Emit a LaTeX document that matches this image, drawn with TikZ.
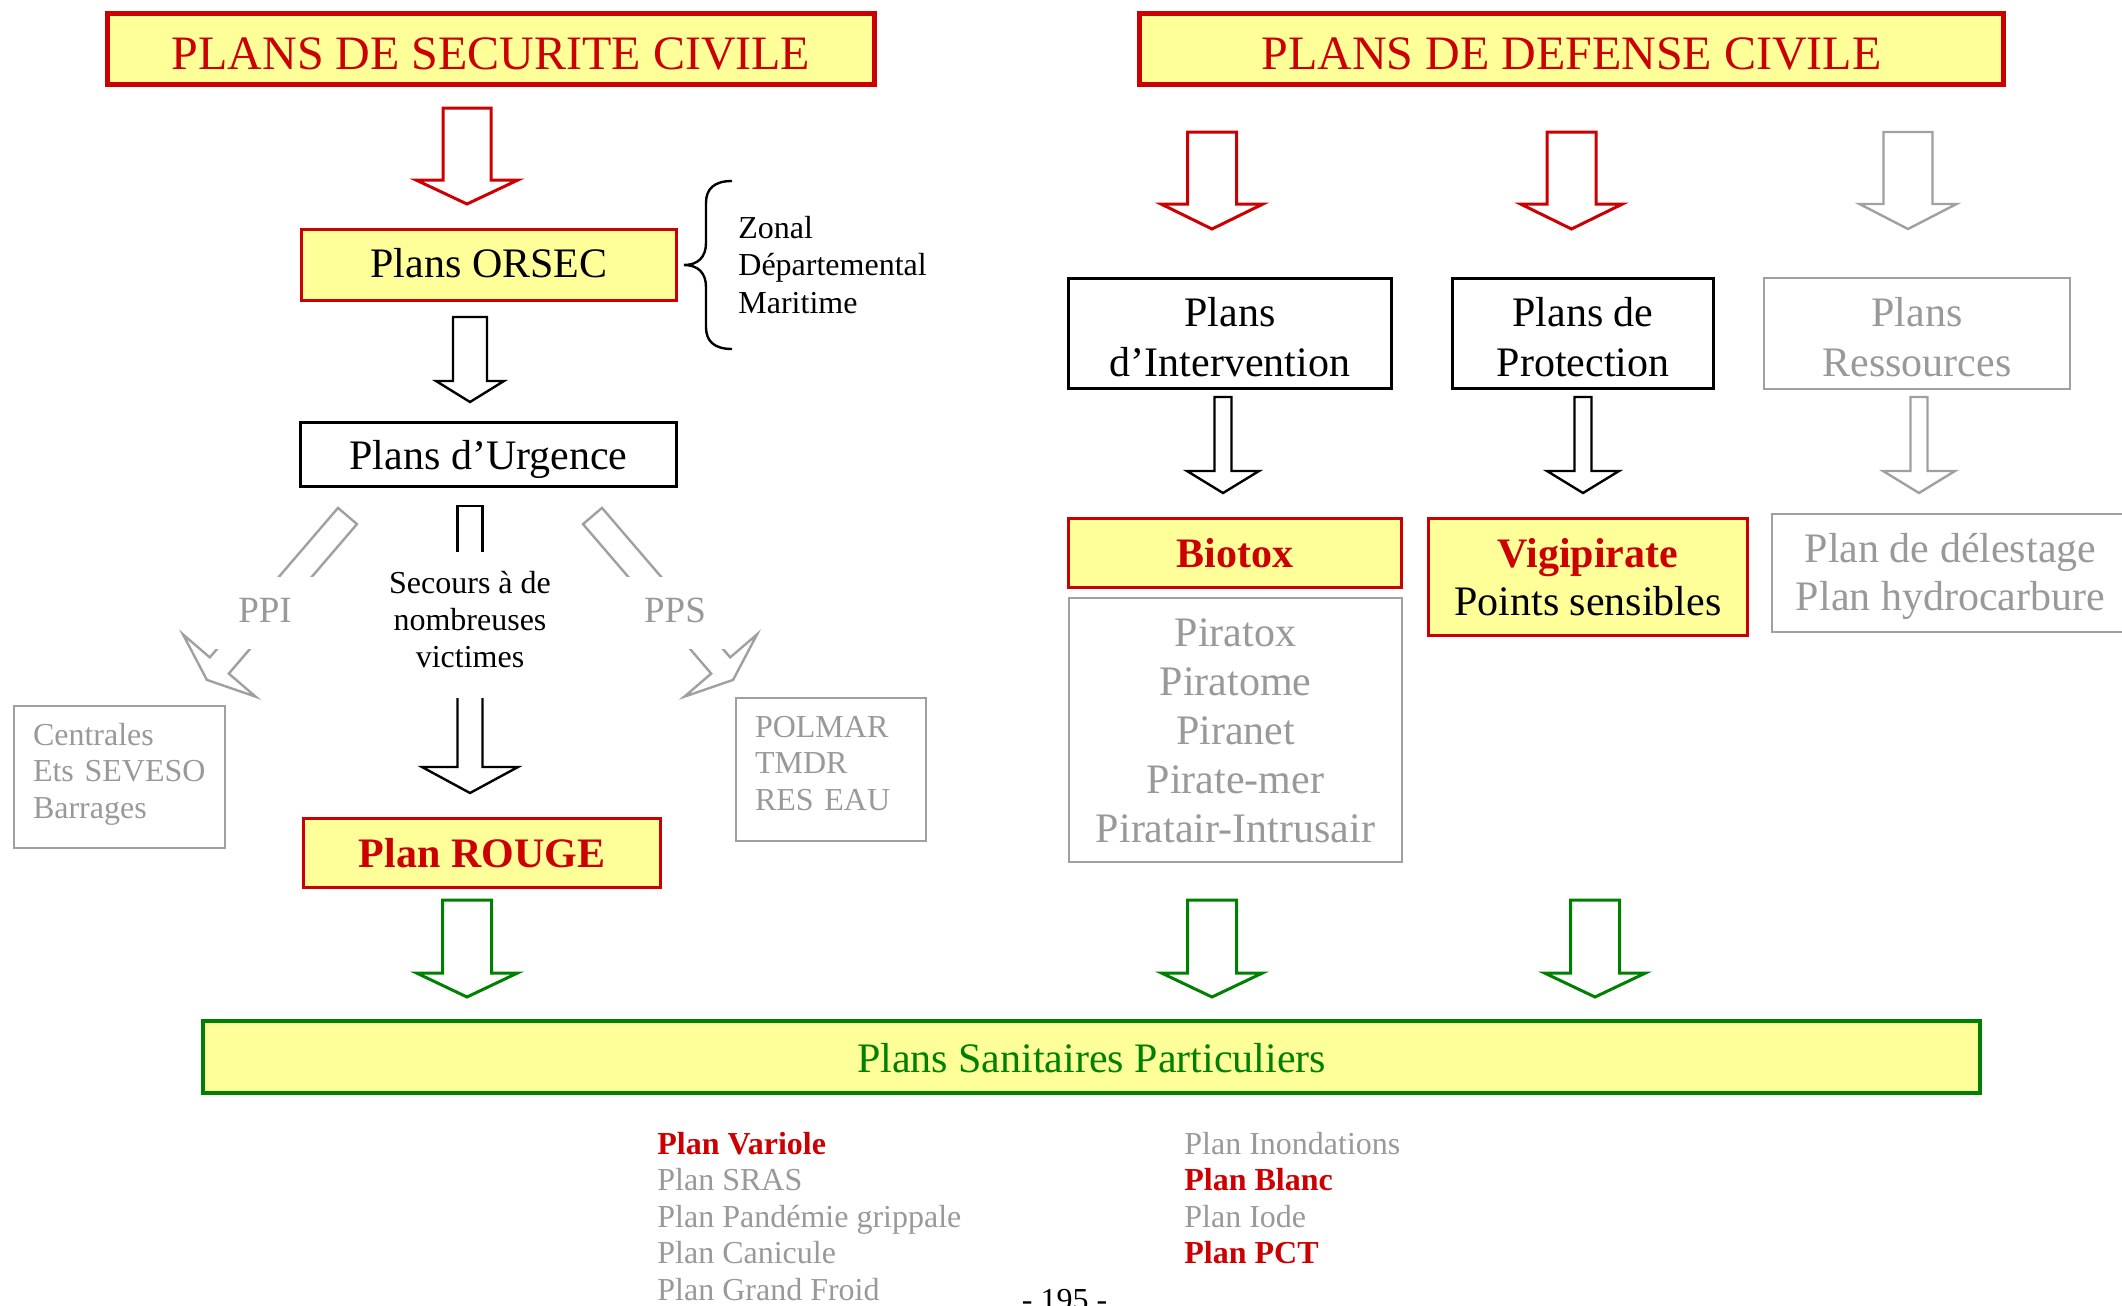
\documentclass[tikz,border=0pt]{standalone}
\usepackage{fontspec}
\setmainfont{Liberation Serif}
\usetikzlibrary{calc}
\definecolor{myred}{HTML}{CC0000}
\definecolor{myyellow}{HTML}{FFFF99}
\definecolor{mygray}{HTML}{A0A0A0}
\definecolor{mygraytext}{HTML}{999999}
\definecolor{mygreen}{HTML}{008000}
\newcommand\BArr[7][]{%
  \draw[#1] ({#2-#4},#3) -- ({#2+#4},#3) -- ({#2+#4},#5) -- ({#2+#6},#5) -- (#2,#7) -- ({#2-#6},#5) -- ({#2-#4},#5) -- cycle;}
\tikzset{
  fbig/.style={font=\fontsize{21}{25}\selectfont},
  fsmall/.style={font=\fontsize{16}{18.5}\selectfont},
  titlebox/.style={draw=myred, fill=myyellow, line width=2.4pt, text=myred, inner sep=0pt,
    font=\fontsize{24}{28}\selectfont, text height=20pt, text depth=0pt},
  redbox/.style={draw=myred, fill=myyellow, line width=1.5pt, inner sep=0pt, fbig},
  blackbox/.style={draw=black, line width=1.3pt, inner sep=0pt, fbig},
  graybox/.style={draw=mygray, line width=1.1pt, inner sep=0pt, text=mygraytext, fbig},
  greenbox/.style={draw=mygreen, fill=myyellow, line width=2.2pt, inner sep=0pt, text=mygreen, fbig},
  redarrow/.style={draw=myred, line width=1.5pt, fill=white, line join=miter},
  blackarrow/.style={draw=black, line width=1.2pt, fill=white, line join=miter},
  grayarrow/.style={draw=mygray, line width=1.2pt, fill=white, line join=miter},
  greenarrow/.style={draw=mygreen, line width=1.5pt, fill=white, line join=miter},
  grayline/.style={draw=mygray, line width=1.2pt, line join=miter},
  lbl/.style={fill=white, inner sep=0pt, minimum width=50pt, minimum height=36pt, text=mygraytext,
    font=\fontsize{18.5}{22}\selectfont, text height=9pt, text depth=0pt},
}
\begin{document}
\begin{tikzpicture}[x=0.5pt,y=-0.5pt]
\useasboundingbox (0,0) rectangle (2122,1306);

% ---------- block arrows ----------
\BArr[redarrow]{467}{108}{24}{180}{51}{204}
\BArr[redarrow]{1212}{132}{24.5}{204}{51}{229}
\BArr[redarrow]{1571.5}{132}{24.5}{204}{51}{229}
\BArr[grayarrow]{1908}{132}{24.5}{204}{48.5}{229}
\BArr[blackarrow]{470}{317}{17}{381}{34}{402}
\BArr[blackarrow]{1223}{397}{8.5}{471}{36}{493}
\BArr[blackarrow]{1583}{397}{8.5}{471}{36}{493}
\BArr[grayarrow]{1919}{397}{8.5}{471}{36}{493}
\BArr[greenarrow]{467}{900}{24.5}{973}{50.5}{997}
\BArr[greenarrow]{1212}{900}{24.5}{973}{50.5}{997}
\BArr[greenarrow]{1595}{900}{24.5}{973}{50.5}{997}

% central arrow (interrupted by its text)
\draw[blackarrow] (457.5,552) -- (457.5,506) -- (482.5,506) -- (482.5,552);
\draw[blackarrow] (457.5,698) -- (457.5,767) -- (422,767) -- (470,793) -- (518,767) -- (482.5,767) -- (482.5,698);

% oblique arrows PPI / PPS
\draw[grayline] (338.0,507.9) -- (357.0,524.1) -- (228.8,673.6) -- (255.7,696.7) -- (206.9,679.9) -- (182.9,634.3) -- (209.8,657.4) -- cycle;
\draw[grayline] (602.0,507.9) -- (583.0,524.1) -- (711.2,673.6) -- (684.3,696.7) -- (733.1,679.9) -- (757.1,634.3) -- (730.2,657.4) -- cycle;

% ---------- nodes ----------
\node[titlebox, minimum width=383.6pt, minimum height=35.6pt] (secu) at (491,49) {PLANS DE SECURITE CIVILE};
\node[titlebox, minimum width=432.1pt, minimum height=35.6pt] (defense) at (1571.5,49) {PLANS DE DEFENSE CIVILE};

\node[redbox, minimum width=187.5pt, minimum height=35.5pt, text height=12pt, text depth=0pt] (orsec) at (489,265) {Plans ORSEC};
\node[blackbox, minimum width=188.2pt, minimum height=32.2pt, text height=14.5pt, text depth=0pt] (urgence) at (488.5,454.5) {Plans d’Urgence};
\node[redbox, text=myred, minimum width=178.5pt, minimum height=34.5pt, text height=14pt, text depth=0pt] (rouge) at (482,853) {\bfseries Plan ROUGE};

\node[anchor=west, inner sep=0pt, align=left, font=\fontsize{16}{18.75}\selectfont, text height=48pt, text depth=0pt] (zones) at (738,265) {Zonal\\Départemental\\Maritime};
\coordinate (bracetip) at (684,265);
\draw[line width=1.2pt] (732,181) .. controls (714,181) and (706,189) .. (706,203) -- (706,243) .. controls (706,257) and (698,265) .. (bracetip) .. controls (698,265) and (706,273) .. (706,287) -- (706,327) .. controls (706,341) and (714,349) .. (732,349);

\node[inner sep=0pt, align=center, fsmall, text height=47pt, text depth=0pt] (secours) at (470,620) {Secours à de\\nombreuses\\victimes};
\node[lbl] (ppi) at (265,613) {PPI};
\node[lbl] (pps) at (675,613) {PPS};

\node[graybox, align=left, text width=86.5pt, inner xsep=9.45pt, inner ysep=0pt, minimum width=105.4pt, minimum height=70.9pt,
  font=\fontsize{16}{18.25}\selectfont, text height=4.5pt, text depth=36.5pt] (centrales) at (119.5,777) {Centrales\\Ets SEVESO\\Barrages};
\node[graybox, align=left, text width=76pt, inner xsep=9.45pt, inner ysep=0pt, minimum width=94.9pt, minimum height=71.4pt,
  font=\fontsize{16}{18.25}\selectfont, text height=4pt, text depth=36.5pt] (polmar) at (831,769.5) {POLMAR\\TMDR\\RES EAU};

\node[blackbox, align=center, minimum width=161.7pt, minimum height=55.2pt, text height=42.5pt, text depth=0pt] (interv) at (1230,333.5) {Plans\\d’Intervention};
\node[blackbox, align=center, minimum width=130.7pt, minimum height=55.2pt, text height=42.5pt, text depth=0pt] (protec) at (1583,333.5) {Plans de\\Protection};
\node[graybox, align=center, minimum width=152.9pt, minimum height=55.4pt, text height=42.5pt, text depth=0pt] (ressources) at (1917,333.5) {Plans\\Ressources};

\node[redbox, text=myred, minimum width=166.5pt, minimum height=34.5pt, text height=14pt, text depth=0pt] (biotox) at (1235,553) {\bfseries Biotox};
\node[graybox, align=center, minimum width=166.4pt, minimum height=131.9pt, font=\fontsize{21}{24.5}\selectfont, text height=112pt, text depth=0pt] (piratox) at (1235.5,730) {Piratox\\Piratome\\Piranet\\Pirate-mer\\Piratair-Intrusair};
\node[redbox, align=center, minimum width=159.5pt, minimum height=58.5pt, font=\fontsize{21}{24}\selectfont, text height=38pt, text depth=0pt] (vigi) at (1588,577) {\textcolor{myred}{\bfseries Vigipirate}\\Points sensibles};
\node[graybox, align=center, minimum width=178.4pt, minimum height=58.9pt, font=\fontsize{21}{24}\selectfont, text height=37pt, text depth=0pt] (delestage) at (1950.5,573) {Plan de délestage\\Plan hydrocarbure};

\node[greenbox, minimum width=888.3pt, minimum height=35.8pt, text height=15pt, text depth=0pt] (psp) at (1091.5,1057) {Plans Sanitaires Particuliers};

\node[anchor=west, inner sep=0pt, align=left, text=mygraytext, font=\fontsize{16}{18.25}\selectfont, text height=73pt, text depth=0pt] (list1) at (657,1227)
  {\textcolor{myred}{\bfseries Plan Variole}\\Plan SRAS\\Plan Pandémie grippale\\Plan Canicule\\Plan Grand Froid};
\node[anchor=west, inner sep=0pt, align=left, text=mygraytext, font=\fontsize{16}{18.25}\selectfont, text height=54.5pt, text depth=0pt] (list2) at (1184,1209)
  {Plan Inondations\\\textcolor{myred}{\bfseries Plan Blanc}\\Plan Iode\\\textcolor{myred}{\bfseries Plan PCT}};

\node[anchor=base, inner sep=0pt, fsmall] (page) at (1064.5,1310) {- 195 -};
\end{tikzpicture}
\end{document}
